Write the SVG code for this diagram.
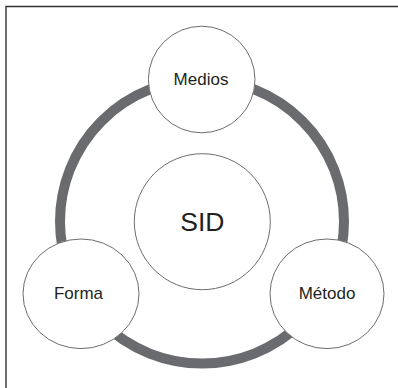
<svg xmlns="http://www.w3.org/2000/svg" width="398" height="388" viewBox="0 0 398 388">
  <style>
    .node { fill: #ffffff; stroke: #6d6d6d; stroke-width: 1; }
    .label { font-family: "Liberation Sans", Arial, sans-serif; fill: #231f20; text-anchor: middle; }
    .ring { fill: none; stroke: #6a6b6f; stroke-width: 10; }
  </style>
  <rect x="0" y="0" width="398" height="388" fill="#ffffff"/>
  <!-- frame: left and top edges -->
  <path d="M6 400 V6.5 H400" fill="none" stroke="#333333" stroke-width="1.4"/>
  <g id="connectors">
    <circle class="ring" cx="202" cy="221.5" r="142"/>
  </g>
  <g id="sid">
    <circle class="node" cx="202.3" cy="221.7" r="68"/>
    <text class="label" x="202.3" y="230.5" font-size="26.5">SID</text>
  </g>
  <g id="medios">
    <circle class="node" cx="201.7" cy="79.5" r="53.3"/>
    <text class="label" x="201" y="85" font-size="17">Medios</text>
  </g>
  <g id="forma">
    <ellipse class="node" cx="81" cy="293.8" rx="58" ry="54.8"/>
    <text class="label" x="78.5" y="299" font-size="17">Forma</text>
  </g>
  <g id="metodo">
    <ellipse class="node" cx="327" cy="293.8" rx="57" ry="54.8"/>
    <text class="label" x="327" y="299" font-size="17">Método</text>
  </g>
</svg>
